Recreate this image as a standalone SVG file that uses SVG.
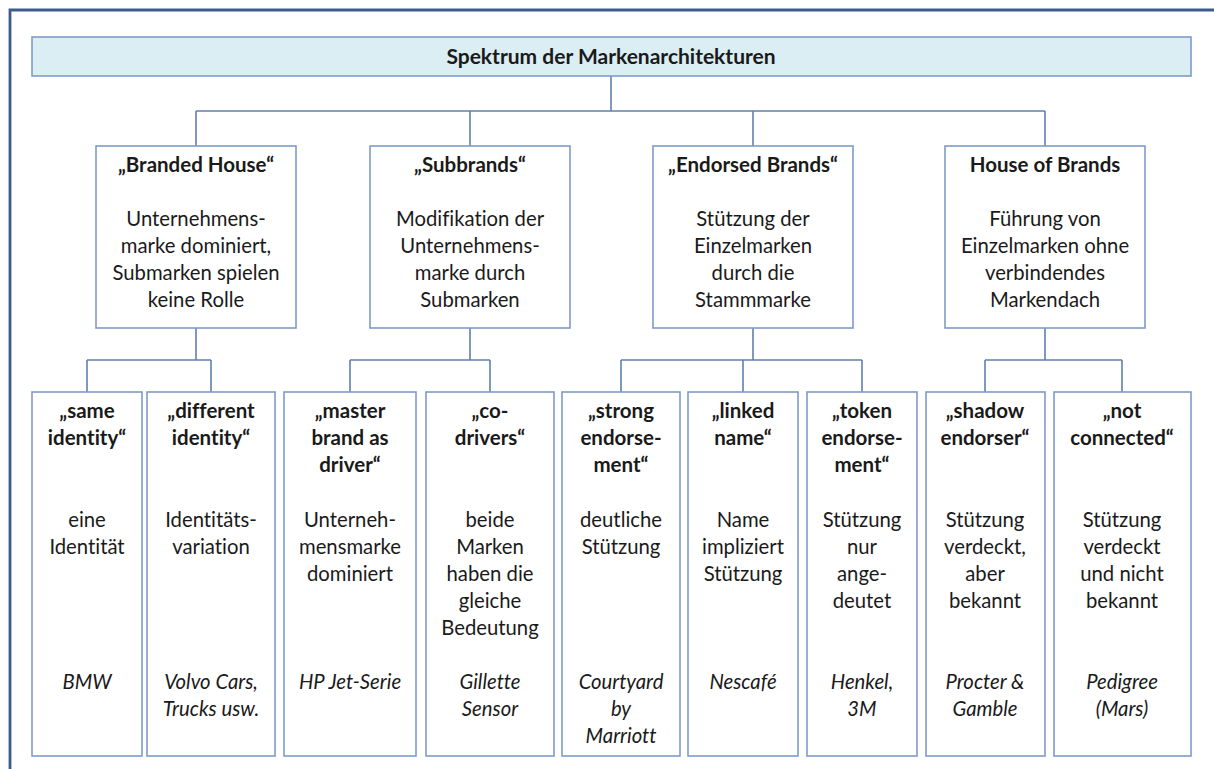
<svg xmlns="http://www.w3.org/2000/svg" width="1214" height="769" viewBox="0 0 1214 769">
<style>
  text { font-family: Lato, "Liberation Sans", sans-serif; fill: #1a1a1a; text-anchor: middle; font-variant-ligatures: none; font-feature-settings: "liga" 0, "dlig" 0; }
  .t { font-size: 21px; font-weight: bold; }
  .h { font-size: 20.5px; font-weight: bold; }
  .b { font-size: 20.3px; }
  .i { font-size: 20.3px; font-style: italic; }
  .box { fill: #ffffff; stroke: #7f9cc8; stroke-width: 1.6; }
  .bar { fill: #dbeef4; stroke: #7f9cc8; stroke-width: 1.6; }
  .conn { fill: none; stroke: #5f80b0; stroke-width: 1.6; }
  .frame { fill: none; stroke: #3b5c8c; stroke-width: 2.8; }
</style>
<rect x="0" y="0" width="1214" height="769" fill="#ffffff"/>
<path class="frame" d="M10 769 V10 H1214"/>

<g id="connectors">
  <path class="conn" d="M611 76 V111 M196 111 H1045 M196 111 V146 M470 111 V146 M753 111 V146 M1045 111 V146"/>
  <path class="conn" d="M196 328 V360 M87 360 H211 M87 360 V392 M211 360 V392"/>
  <path class="conn" d="M470 328 V360 M350 360 H490 M350 360 V392 M490 360 V392"/>
  <path class="conn" d="M753 328 V360 M621 360 H862 M621 360 V392 M743 360 V392 M862 360 V392"/>
  <path class="conn" d="M1045 328 V360 M985 360 H1122 M985 360 V392 M1122 360 V392"/>
</g>

<g id="root">
  <rect class="bar" x="32" y="37" width="1159" height="39"/>
  <text class="t" x="611" y="64">Spektrum der Markenarchitekturen</text>
</g>

<g id="branded-house">
  <rect class="box" x="96" y="146" width="200" height="182"/>
  <text class="h" x="196" y="172">„Branded House“</text>
  <text class="b" x="196" y="226">Unternehmens-</text>
  <text class="b" x="196" y="253">marke dominiert,</text>
  <text class="b" x="196" y="280">Submarken spielen</text>
  <text class="b" x="196" y="307">keine Rolle</text>
</g>
<g id="subbrands">
  <rect class="box" x="370" y="146" width="200" height="182"/>
  <text class="h" x="470" y="172">„Subbrands“</text>
  <text class="b" x="470" y="226">Modifikation der</text>
  <text class="b" x="470" y="253">Unternehmens-</text>
  <text class="b" x="470" y="280">marke durch</text>
  <text class="b" x="470" y="307">Submarken</text>
</g>
<g id="endorsed-brands">
  <rect class="box" x="653" y="146" width="200" height="182"/>
  <text class="h" x="753" y="172">„Endorsed Brands“</text>
  <text class="b" x="753" y="226">Stützung der</text>
  <text class="b" x="753" y="253">Einzelmarken</text>
  <text class="b" x="753" y="280">durch die</text>
  <text class="b" x="753" y="307">Stammmarke</text>
</g>
<g id="house-of-brands">
  <rect class="box" x="945" y="146" width="200" height="182"/>
  <text class="h" x="1045" y="172">House of Brands</text>
  <text class="b" x="1045" y="226">Führung von</text>
  <text class="b" x="1045" y="253">Einzelmarken ohne</text>
  <text class="b" x="1045" y="280">verbindendes</text>
  <text class="b" x="1045" y="307">Markendach</text>
</g>

<g id="same-identity">
  <rect class="box" x="32" y="392" width="110" height="364"/>
  <text class="h" x="87" y="418">„same</text>
  <text class="h" x="87" y="445">identity“</text>
  <text class="b" x="87" y="527">eine</text>
  <text class="b" x="87" y="554">Identität</text>
  <text class="i" x="87" y="689">BMW</text>
</g>
<g id="different-identity">
  <rect class="box" x="147" y="392" width="128" height="364"/>
  <text class="h" x="211" y="418">„different</text>
  <text class="h" x="211" y="445">identity“</text>
  <text class="b" x="211" y="527">Identitäts-</text>
  <text class="b" x="211" y="554">variation</text>
  <text class="i" x="211" y="689">Volvo Cars,</text>
  <text class="i" x="211" y="716">Trucks usw.</text>
</g>
<g id="master-brand">
  <rect class="box" x="284" y="392" width="132" height="364"/>
  <text class="h" x="350" y="418">„master</text>
  <text class="h" x="350" y="445">brand as</text>
  <text class="h" x="350" y="472">driver“</text>
  <text class="b" x="350" y="527">Unterneh-</text>
  <text class="b" x="350" y="554">mensmarke</text>
  <text class="b" x="350" y="581">dominiert</text>
  <text class="i" x="350" y="689">HP Jet-Serie</text>
</g>
<g id="co-drivers">
  <rect class="box" x="426" y="392" width="128" height="364"/>
  <text class="h" x="490" y="418">„co-</text>
  <text class="h" x="490" y="445">drivers“</text>
  <text class="b" x="490" y="527">beide</text>
  <text class="b" x="490" y="554">Marken</text>
  <text class="b" x="490" y="581">haben die</text>
  <text class="b" x="490" y="608">gleiche</text>
  <text class="b" x="490" y="635">Bedeutung</text>
  <text class="i" x="490" y="689">Gillette</text>
  <text class="i" x="490" y="716">Sensor</text>
</g>
<g id="strong-endorsement">
  <rect class="box" x="562" y="392" width="118" height="364"/>
  <text class="h" x="621" y="418">„strong</text>
  <text class="h" x="621" y="445">endorse-</text>
  <text class="h" x="621" y="472">ment“</text>
  <text class="b" x="621" y="527">deutliche</text>
  <text class="b" x="621" y="554">Stützung</text>
  <text class="i" x="621" y="689">Courtyard</text>
  <text class="i" x="621" y="716">by</text>
  <text class="i" x="621" y="743">Marriott</text>
</g>
<g id="linked-name">
  <rect class="box" x="688" y="392" width="110" height="364"/>
  <text class="h" x="743" y="418">„linked</text>
  <text class="h" x="743" y="445">name“</text>
  <text class="b" x="743" y="527">Name</text>
  <text class="b" x="743" y="554">impliziert</text>
  <text class="b" x="743" y="581">Stützung</text>
  <text class="i" x="743" y="689">Nescafé</text>
</g>
<g id="token-endorsement">
  <rect class="box" x="807" y="392" width="110" height="364"/>
  <text class="h" x="862" y="418">„token</text>
  <text class="h" x="862" y="445">endorse-</text>
  <text class="h" x="862" y="472">ment“</text>
  <text class="b" x="862" y="527">Stützung</text>
  <text class="b" x="862" y="554">nur</text>
  <text class="b" x="862" y="581">ange-</text>
  <text class="b" x="862" y="608">deutet</text>
  <text class="i" x="862" y="689">Henkel,</text>
  <text class="i" x="862" y="716">3M</text>
</g>
<g id="shadow-endorser">
  <rect class="box" x="926" y="392" width="119" height="364"/>
  <text class="h" x="985" y="418">„shadow</text>
  <text class="h" x="985" y="445">endorser“</text>
  <text class="b" x="985" y="527">Stützung</text>
  <text class="b" x="985" y="554">verdeckt,</text>
  <text class="b" x="985" y="581">aber</text>
  <text class="b" x="985" y="608">bekannt</text>
  <text class="i" x="985" y="689">Procter &amp;</text>
  <text class="i" x="985" y="716">Gamble</text>
</g>
<g id="not-connected">
  <rect class="box" x="1054" y="392" width="137" height="364"/>
  <text class="h" x="1122" y="418">„not</text>
  <text class="h" x="1122" y="445">connected“</text>
  <text class="b" x="1122" y="527">Stützung</text>
  <text class="b" x="1122" y="554">verdeckt</text>
  <text class="b" x="1122" y="581">und nicht</text>
  <text class="b" x="1122" y="608">bekannt</text>
  <text class="i" x="1122" y="689">Pedigree</text>
  <text class="i" x="1122" y="716">(Mars)</text>
</g>
</svg>
